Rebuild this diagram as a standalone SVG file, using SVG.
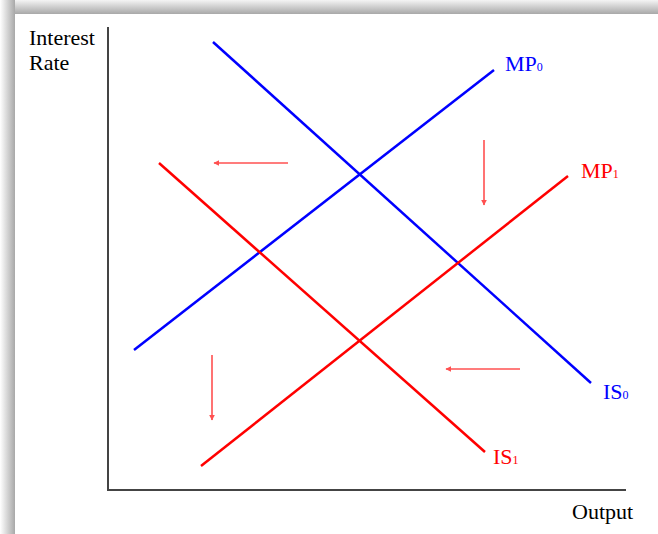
<svg xmlns="http://www.w3.org/2000/svg" width="658" height="534" viewBox="0 0 658 534">
<defs>
<linearGradient id="shTop" x1="0" y1="0" x2="0" y2="1"><stop offset="0" stop-color="#f4f4f4"/><stop offset="1" stop-color="#a8a8a8"/></linearGradient>
<linearGradient id="shLeft" x1="0" y1="0" x2="1" y2="0"><stop offset="0" stop-color="#ffffff"/><stop offset="1" stop-color="#a8a8a8"/></linearGradient>
<marker id="ah" viewBox="0 0 10 10" refX="9" refY="5" markerWidth="6" markerHeight="6" markerUnits="userSpaceOnUse" orient="auto"><path d="M0,0 L10,5 L0,10 z" fill="#ff5050"/></marker>
<style>
.lbl{font-family:"Liberation Serif","Times New Roman",serif;font-size:22px}
.ax{stroke:#444;stroke-width:2;fill:none}
.blue{stroke:#0000ff;stroke-width:2.5}
.red{stroke:#ff0000;stroke-width:2.5}
.arr{stroke:#ff5050;stroke-width:1.6;marker-end:url(#ah)}
.sub{font-size:12px}
</style>
</defs>
<rect width="658" height="534" fill="#ffffff"/>
<rect x="0" y="0" width="658" height="14" fill="url(#shTop)"/>
<rect x="0" y="0" width="15" height="534" fill="url(#shLeft)"/>
<rect x="15" y="14" width="643" height="520" fill="#ffffff"/>
<g id="axes">
<path class="ax" d="M108,27 V490 H626"/>
<text class="lbl" x="29" y="45" fill="#000">Interest</text>
<text class="lbl" x="29" y="70" fill="#000">Rate</text>
<text class="lbl" x="572" y="519" fill="#000">Output</text>
</g>
<g id="IS0">
<line class="blue" x1="213" y1="42" x2="591" y2="383"/>
<text class="lbl" x="603" y="399" fill="#0000ff">IS<tspan class="sub">0</tspan></text>
</g>
<g id="MP0">
<line class="blue" x1="134" y1="350" x2="494" y2="70"/>
<text class="lbl" x="505" y="71" fill="#0000ff">MP<tspan class="sub">0</tspan></text>
</g>
<g id="IS1">
<line class="red" x1="159" y1="163" x2="485" y2="452"/>
<text class="lbl" x="493" y="464" fill="#ff0000">IS<tspan class="sub">1</tspan></text>
</g>
<g id="MP1">
<line class="red" x1="201" y1="466" x2="568" y2="176"/>
<text class="lbl" x="581" y="178" fill="#ff0000">MP<tspan class="sub">1</tspan></text>
</g>
<g id="connectors">
<line class="arr" x1="288" y1="163" x2="214" y2="163"/>
<line class="arr" x1="484" y1="140" x2="484" y2="205"/>
<line class="arr" x1="212" y1="355" x2="212" y2="420"/>
<line class="arr" x1="520" y1="369" x2="446" y2="369"/>
</g>
</svg>
